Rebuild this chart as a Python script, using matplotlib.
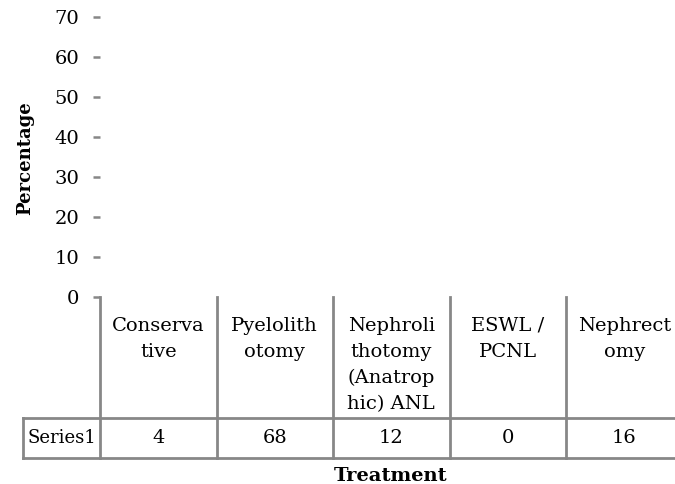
import matplotlib.pyplot as plt
from matplotlib.transforms import blended_transform_factory

# Данные
categories = ["Conserva\ntive", "Pyelolith\notomy", "Nephroli\nthotomy\n(Anatrop\nhic) ANL",
              "ESWL /\nPCNL", "Nephrect\nomy"]
values = [4, 68, 12, 0, 16]
series_name = "Series1"
y_ticks = [0, 10, 20, 30, 40, 50, 60, 70]

plt.rcParams['font.family'] = ['DejaVu Serif']
line_col = '#878787'
W, H = 675, 484

fig = plt.figure(figsize=(W / 100, H / 100), dpi=100)
# оси: 0 на 297 px, 70 на 17 px, левая граница 100 px
ax = fig.add_axes([100 / W, (H - 297) / H, 582.5 / W, 280 / H])

# столбцы без заливки
ax.bar(range(len(values)), values, width=0.6, color='none', edgecolor='none')
ax.set_xlim(-0.5, len(values) - 0.5)
ax.set_ylim(0, 70)
ax.set_yticks(y_ticks)
ax.set_xticks([])
for s in ax.spines.values():
    s.set_visible(False)
ax.tick_params(axis='y', length=5, width=1.8, color=line_col, pad=10, labelsize=14)

tr = blended_transform_factory(ax.transData, ax.transAxes)
px = 1 / 280  # один пиксель в долях высоты осей
y_top = 0.0
y_row = -(418 - 297) * px
y_bot = -(458 - 297) * px
unit = 582.5 / len(values)  # пикселей на категорию
x_left = -0.5 - 77 / unit

# вертикальные линии таблицы
for b in [i - 0.5 for i in range(len(values))]:
    ax.plot([b, b], [y_top, y_bot], color=line_col, lw=2, transform=tr, clip_on=False,
            solid_capstyle='projecting')
ax.plot([x_left, x_left], [y_row, y_bot], color=line_col, lw=2, transform=tr, clip_on=False,
        solid_capstyle='projecting')
# горизонтальные линии таблицы
for yy in [y_row, y_bot]:
    ax.plot([x_left, len(values) + 0.5], [yy, yy], color=line_col, lw=2, transform=tr,
            clip_on=False, solid_capstyle='projecting')

# подписи категорий и значения
for i, (c, v) in enumerate(zip(categories, values)):
    ax.text(i, -20 * px, c, ha='center', va='top', fontsize=14, linespacing=1.56,
            transform=tr, clip_on=False)
    ax.text(i, (y_row + y_bot) / 2, str(v), ha='center', va='center', fontsize=14,
            transform=tr, clip_on=False)
ax.text((x_left - 0.5) / 2, (y_row + y_bot) / 2, series_name, ha='center', va='center',
        fontsize=13, transform=tr, clip_on=False)

fig.text(25 / W, 1 - 158 / H, "Percentage", rotation=90, ha='center', va='center',
         fontsize=13, fontweight='bold')
fig.text(391 / W, 1 - 476 / H, "Treatment", ha='center', va='center',
         fontsize=14, fontweight='bold')

fig.savefig("out.png", dpi=100)
